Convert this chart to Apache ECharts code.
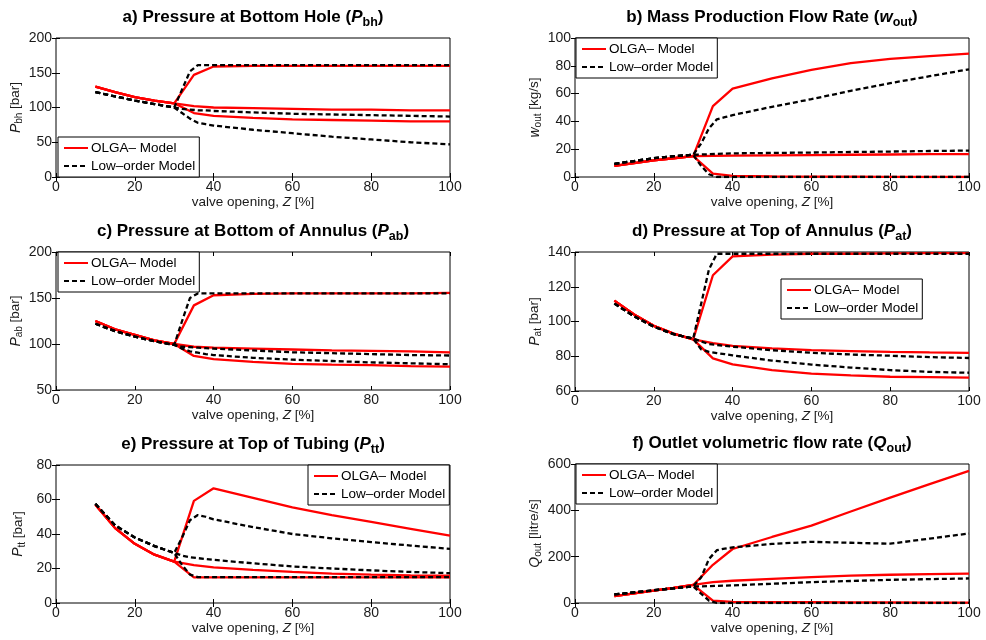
<!DOCTYPE html>
<html><head><meta charset="utf-8">
<script src="https://cdn.jsdelivr.net/npm/echarts@6/dist/echarts.min.js"></script>
<style>html,body{margin:0;padding:0;background:#fff}#c{width:986px;height:640px}</style>
</head><body><div id="c"></div>
<script>
// ---------------- data ----------------
const xOlga = [10,15,20,25,30,35,40,50,60,70,80,90,100];
const xLow  = [10,15,20,25,30,32,34,36,38,40,50,60,70,80,90,100];
const xTicks = [0,20,40,60,80,100];

// a) Pressure at Bottom Hole
const aOlgaMax  = [130,122,115,110,106,147,159,160,160,160,160,160,160];
const aOlgaMean = [130,122,115,110,106,102,100,99,98,97,97,96,96];
const aOlgaMin  = [130,122,115,110,106,92,88,85,83,82,81,80,80];
const aLowMax   = [122,116,110,105,100,126,152,161,161,161,161,161,161,161,161,161];
const aLowMean  = [122,116,110,105,100,98,97,96,96,95,93,91,90,89,88,87];
const aLowMin   = [122,116,110,105,100,92,84,78,76,74,68,63,58,54,50,47];

// b) Mass Production Flow Rate
const bOlgaMax  = [8,10,12,13.5,15,51,63.5,71,77,82,85,87,88.7];
const bOlgaMean = [8,10,12,13.5,15,15.2,15.4,15.6,15.8,16,16.2,16.4,16.5];
const bOlgaMin  = [8,10,12,13.5,15,2.5,0.8,0.5,0.3,0.2,0.1,0,0];
const bLowMax   = [9.5,11.5,13.5,15,16,24,35,41.5,43,44.5,50.5,56,62,67.5,72.5,77.5];
const bLowMean  = [9.5,11.5,13.5,15,16,16.2,16.4,16.6,16.8,17,17.3,17.6,18,18.3,18.7,19];
const bLowMin   = [9.5,11.5,13.5,15,16,8,2,0,0,0,0,0,0,0,0,0];

// c) Pressure at Bottom of Annulus
const cOlgaMax  = [125,116,110,104,100,142,153,154.5,155,155,155,155,155.5];
const cOlgaMean = [125,116,110,104,100,97,96,95,94,93,92.5,92,91];
const cOlgaMin  = [125,116,110,104,100,87,83.5,80.5,78.5,77.5,77,76,75.3];
const cLowMax   = [122,114,108,103,99,125,150,155,155,155,155,155,155,155,155,155];
const cLowMean  = [122,114,108,103,99,97,96.5,96,95.5,95,93,91,90,89,88,87.5];
const cLowMin   = [122,114,108,103,99,95,92,90.5,89,88,85,83,81.5,80,79,78];

// d) Pressure at Top of Annulus
const dOlgaMax  = [112,104,97.5,93,89.7,126.6,137.5,138.5,139,139,139.2,139.3,139.4];
const dOlgaMean = [112,104,97.5,93,89.7,87.5,86,84.5,83.5,83,82.5,82.2,82];
const dOlgaMin  = [112,104,97.5,93,89.7,78.8,75.3,72,70,69,68.2,68,67.7];
const dLowMax   = [110.3,103,97,92.7,90.2,110,130,139,139,139,139,139,139,139,139,139];
const dLowMean  = [110.3,103,97,92.7,90.2,88.5,87,86.5,86,85.5,83.5,82,81,80.3,79.5,79];
const dLowMin   = [110.3,103,97,92.7,90.2,84,82.5,81.8,81.2,80.5,77.5,75.2,73.5,72,71,70.5];

// e) Pressure at Top of Tubing
const eOlgaMax  = [57,43.4,34.3,28,24,59.2,66.5,61,55.5,51,47,43,39];
const eOlgaMean = [57,43.4,34.3,28,24,22,20.6,19.2,18,17,16.4,16,15.8];
const eOlgaMin  = [57,43.4,34.3,28,24,14.8,14.8,14.8,14.8,14.8,14.8,14.8,14.8];
const eLowMax   = [57.5,45,38,33,29,38,48,51,50,48.5,44,40,37.5,35.3,33.3,31.4];
const eLowMean  = [57.5,45,38,33,29,27.5,26.5,26,25.5,25,23,21.2,20,18.9,18,17.3];
const eLowMin   = [57.5,45,38,33,29,22,16.5,15,15,15,15,15,15,15,15,15];

// f) Outlet volumetric flow rate
const fOlgaMax  = [30,42,53,65,78,165,233,285,334,395,455,513,570];
const fOlgaMean = [30,42,53,65,78,90,96,104,112,118,122,125,127];
const fOlgaMin  = [30,42,53,65,78,10,5,4,4,3,3,2,2];
const fLowMax   = [37,46,55,63,72,110,190,228,235,240,255,264,260,256,278,300];
const fLowMean  = [37,46,55,63,72,72,73,74,75,76,83,90,95,100,103,106];
const fLowMin   = [37,46,55,63,72,40,10,0,0,0,0,0,0,0,0,0];

const legendNames = ['OLGA\u2013 Model', 'Low\u2013order Model'];

// ---------------- layout ----------------
const FONT = "'Liberation Sans', Arial, Helvetica, sans-serif";
const panels = [
  {grid:{left:56,top:38,width:394,height:139}, y:[0,200,50], title:['a) Pressure at Bottom Hole (','P','bh',')'], yname:['P','bh',' [bar]'], leg:{left:58,top:137},
   olga:[aOlgaMax,aOlgaMean,aOlgaMin], low:[aLowMax,aLowMean,aLowMin]},
  {grid:{left:575,top:38,width:394,height:139}, y:[0,100,20], title:['b) Mass Production Flow Rate (','w','out',')'], yname:['w','out',' [kg/s]'], leg:{left:576,top:38},
   olga:[bOlgaMax,bOlgaMean,bOlgaMin], low:[bLowMax,bLowMean,bLowMin]},
  {grid:{left:56,top:252,width:394,height:138}, y:[50,200,50], title:['c) Pressure at Bottom of Annulus (','P','ab',')'], yname:['P','ab',' [bar]'], leg:{left:58,top:252},
   olga:[cOlgaMax,cOlgaMean,cOlgaMin], low:[cLowMax,cLowMean,cLowMin]},
  {grid:{left:575,top:252,width:394,height:139}, y:[60,140,20], title:['d) Pressure at Top of Annulus (','P','at',')'], yname:['P','at',' [bar]'], leg:{left:781,top:279},
   olga:[dOlgaMax,dOlgaMean,dOlgaMin], low:[dLowMax,dLowMean,dLowMin]},
  {grid:{left:56,top:465,width:394,height:138}, y:[0,80,20], title:['e) Pressure at Top of Tubing (','P','tt',')'], yname:['P','tt',' [bar]'], leg:{left:308,top:465},
   olga:[eOlgaMax,eOlgaMean,eOlgaMin], low:[eLowMax,eLowMean,eLowMin]},
  {grid:{left:575,top:464,width:394,height:139}, y:[0,600,200], title:['f) Outlet volumetric flow rate (','Q','out',')'], yname:['Q','out',' [litre/s]'], leg:{left:576,top:464},
   olga:[fOlgaMax,fOlgaMean,fOlgaMin], low:[fLowMax,fLowMean,fLowMin]}
];

const grids = [], xAxes = [], yAxes = [], series = [], titles = [], legends = [];
const tickColor = '#1a1a1a';
panels.forEach((p, i) => {
  grids.push(Object.assign({show:true, borderColor:'#000', borderWidth:1, backgroundColor:'#fff'}, p.grid));
  const cx = p.grid.left + p.grid.width / 2;
  titles.push({
    text: '{t|' + p.title[0] + '}{ti|' + p.title[1] + '}{ts|' + p.title[2] + '}{t|' + p.title[3] + '}',
    left: cx, top: p.grid.top - 31, textAlign: 'center', padding: 0,
    textStyle: { rich: {
      t:  {fontFamily:FONT, fontSize:17, fontWeight:'bold', color:'#000', lineHeight:20},
      ti: {fontFamily:FONT, fontSize:17, fontWeight:'bold', fontStyle:'italic', color:'#000', lineHeight:20},
      ts: {fontFamily:FONT, fontSize:12.5, fontWeight:'bold', color:'#000', lineHeight:12, padding:[12,0,0,0]}
    }}
  });
  const common = {type:'value', gridIndex:i, splitLine:{show:false}, axisLine:{show:false}};
  xAxes.push(Object.assign({}, common, {
    min:0, max:100, interval:20, position:'bottom',
    axisTick:{show:true, inside:true, length:4, lineStyle:{color:'#000'}},
    axisLabel:{fontFamily:FONT, fontSize:14, color:tickColor, margin:3},
    name:'{n|valve opening, }{i|Z}{n| [%]}', nameLocation:'middle', nameGap:18,
    nameTextStyle:{rich:{
      n:{fontFamily:FONT, fontSize:13.5, color:tickColor},
      i:{fontFamily:FONT, fontSize:13.5, fontStyle:'italic', color:tickColor}
    }}
  }));
  xAxes.push(Object.assign({}, common, {
    min:0, max:100, interval:20, position:'top',
    axisTick:{show:true, inside:true, length:4, lineStyle:{color:'#000'}},
    axisLabel:{show:false}
  }));
  yAxes.push(Object.assign({}, common, {
    min:p.y[0], max:p.y[1], interval:p.y[2], position:'left',
    axisTick:{show:true, inside:true, length:4, lineStyle:{color:'#000'}},
    axisLabel:{fontFamily:FONT, fontSize:14, color:tickColor, margin:4},
    name:'{i|' + p.yname[0] + '}{s|' + p.yname[1] + '}{n|' + p.yname[2] + '}',
    nameLocation:'middle', nameGap:30,
    nameTextStyle:{rich:{
      i:{fontFamily:FONT, fontSize:14, fontStyle:'italic', color:tickColor, lineHeight:16},
      s:{fontFamily:FONT, fontSize:10, color:tickColor, lineHeight:10, padding:[8,0,0,0]},
      n:{fontFamily:FONT, fontSize:13.5, color:tickColor, lineHeight:16}
    }}
  }));
  yAxes.push(Object.assign({}, common, {
    min:p.y[0], max:p.y[1], interval:p.y[2], position:'right',
    axisTick:{show:true, inside:true, length:4, lineStyle:{color:'#000'}},
    axisLabel:{show:false}
  }));
  p.olga.forEach(arr => series.push({
    type:'line', name:legendNames[0], xAxisIndex:2*i, yAxisIndex:2*i,
    data: xOlga.map((x, k) => [x, arr[k]]), symbol:'none', silent:true,
    lineStyle:{color:'#ff0000', width:2.3}, itemStyle:{color:'#ff0000'}
  }));
  p.low.forEach(arr => series.push({
    type:'line', name:legendNames[1], xAxisIndex:2*i, yAxisIndex:2*i,
    data: xLow.map((x, k) => [x, arr[k]]), symbol:'none', silent:true,
    lineStyle:{color:'#000', width:2.3, type:[5,3]}, itemStyle:{color:'#000'}
  }));
  legends.push({
    data: legendNames, orient:'vertical', left:p.leg.left, top:p.leg.top,
    padding:[4,4,4,5], itemGap:4, itemWidth:24, itemHeight:14, selectedMode:false,
    backgroundColor:'#fff', borderColor:'#000', borderWidth:1, borderRadius:0,
    itemStyle:{opacity:0},
    textStyle:{fontFamily:FONT, fontSize:13.5, color:'#000', padding:[0,0,0,-2]}
  });
});

const chart = echarts.init(document.getElementById('c'), null, {renderer:'canvas'});
chart.setOption({
  animation:false, backgroundColor:'#fff',
  title: titles, grid: grids, xAxis: xAxes, yAxis: yAxes, legend: legends, series: series
});
</script></body></html>
